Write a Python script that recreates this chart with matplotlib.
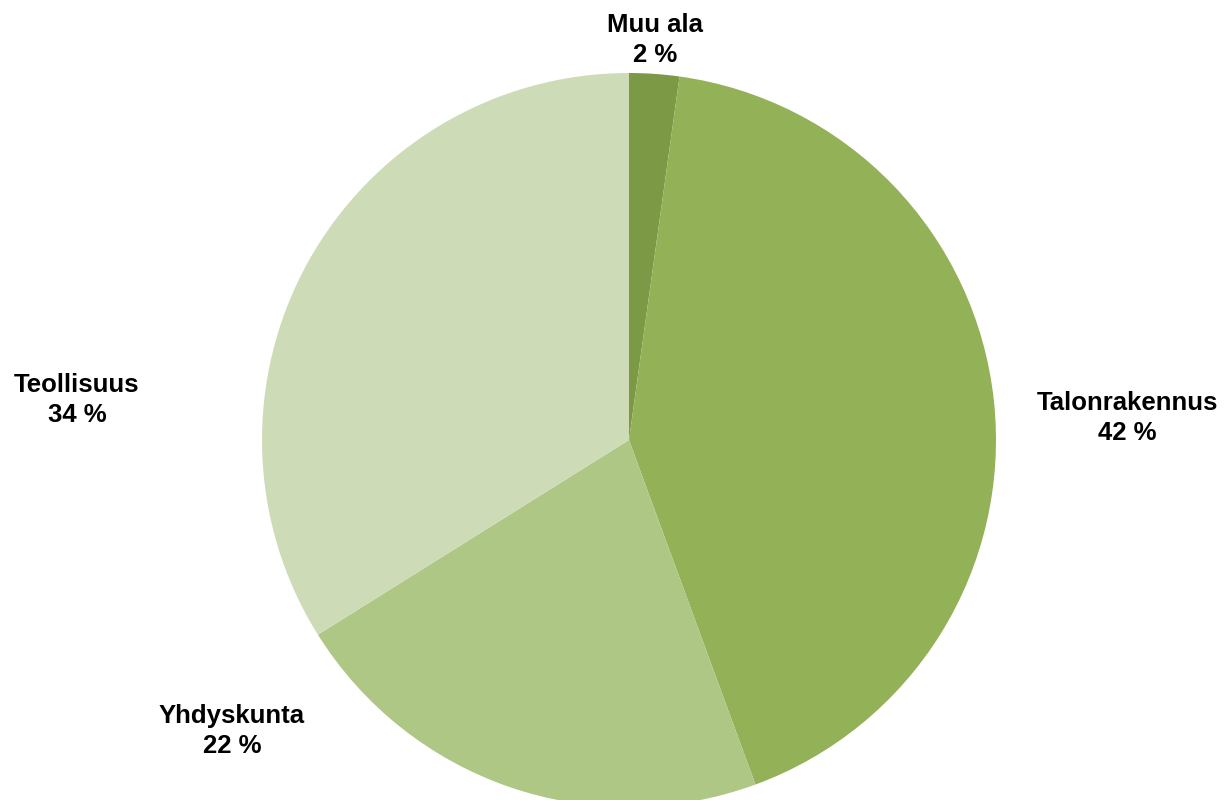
import matplotlib
matplotlib.use("Agg")
import matplotlib.pyplot as plt
from matplotlib.font_manager import FontProperties

labels = ["Muu ala", "Talonrakennus", "Yhdyskunta", "Teollisuus"]
shares = [2.2, 42.2, 21.7, 33.9]
colors = ["#7c9a45", "#93b157", "#aec785", "#cedbb7"]

# label anchor points in figure pixels (x, y from top)
label_pos = [(655, 40), (1127, 418), (232, 731), (77, 400)]

W, H = 1231, 800
fig = plt.figure(figsize=(W / 100, H / 100), dpi=100)
ax = fig.add_axes([0, 0, 1, 1])

ax.pie(shares, colors=colors, startangle=90, counterclock=False,
       center=(629, H - 440), radius=367, frame=True,
       wedgeprops=dict(linewidth=0))
ax.set_xlim(0, W)
ax.set_ylim(0, H)
ax.set_aspect("equal")
ax.axis("off")

fp = FontProperties(family="Liberation Sans", weight="bold", stretch="normal", size=18.5)
for name, val, (x, y) in zip(labels, shares, label_pos):
    ax.text(x, H - y, f"{name}\n{round(val)} %", ha="center", va="center",
            fontproperties=fp, linespacing=1.35, color="black")

fig.savefig("out.png", dpi=100)
